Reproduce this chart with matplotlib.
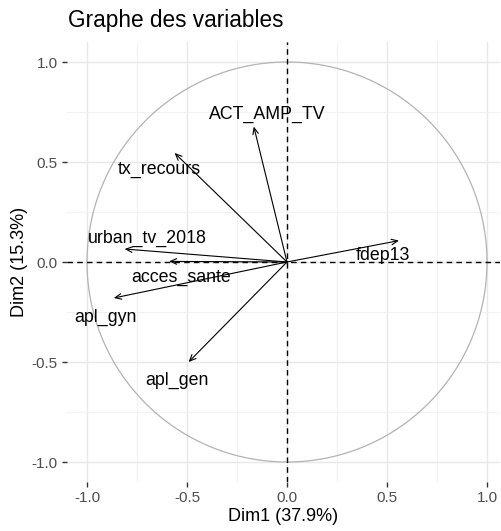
import numpy as np
import matplotlib
matplotlib.use("Agg")
import matplotlib.pyplot as plt
from matplotlib.ticker import MultipleLocator

plt.rcParams['font.family'] = ['Liberation Sans', 'DejaVu Sans']

variables = ["ACT_AMP_TV", "tx_recours", "urban_tv_2018", "acces_sante", "apl_gyn", "apl_gen", "fdep13"]
dim1 = [-0.166, -0.562, -0.812, -0.590, -0.866, -0.492, 0.560]
dim2 = [0.677, 0.545, 0.065, 0.003, -0.180, -0.500, 0.107]
label_x = [-0.10, -0.64, -0.70, -0.53, -0.91, -0.55, 0.48]
label_y = [0.74, 0.465, 0.12, -0.075, -0.275, -0.59, 0.035]

title = "Graphe des variables"
xlabel = "Dim1 (37.9%)"
ylabel = "Dim2 (15.3%)"
ticks = [-1.0, -0.5, 0.0, 0.5, 1.0]

fig = plt.figure(figsize=(5.02, 5.31), dpi=100)
ax = fig.add_axes([67/502, 49/531, 433/502, 440/531])
ax.set_xlim(-1.1, 1.065)
ax.set_ylim(-1.1, 1.1)

for s in ax.spines.values():
    s.set_visible(False)
ax.set_xticks(ticks)
ax.set_yticks(ticks)
ax.set_xticklabels([f"{t:.1f}" for t in ticks])
ax.set_yticklabels([f"{t:.1f}" for t in ticks])
ax.xaxis.set_minor_locator(MultipleLocator(0.25))
ax.yaxis.set_minor_locator(MultipleLocator(0.25))
ax.grid(True, which='major', color='#e8e8e8', lw=1.0, zorder=0)
ax.grid(True, which='minor', color='#f2f2f2', lw=0.8, zorder=0)
ax.tick_params(which='major', length=3.5, width=1.0, color='#333333',
               labelsize=11, labelcolor='#4d4d4d', pad=3)
ax.tick_params(which='minor', length=0)
ax.set_axisbelow(True)

theta = np.linspace(0, 2*np.pi, 400)
ax.plot(np.cos(theta), np.sin(theta), color='#b3b3b3', lw=0.9, zorder=1)
ax.axhline(0, color='black', ls=(0, (4, 3)), lw=1.0, zorder=2)
ax.axvline(0, color='black', ls=(0, (4, 3)), lw=1.0, zorder=2)

for name, x, y, lx, ly in zip(variables, dim1, dim2, label_x, label_y):
    ax.annotate("", xy=(x, y), xytext=(0, 0),
                arrowprops=dict(arrowstyle="->,head_length=0.45,head_width=0.2",
                                color='black', lw=0.8, shrinkA=0, shrinkB=0),
                zorder=3)
    ax.text(lx, ly, name, ha='center', va='center', fontsize=12.8,
            color='black', zorder=4)

ax.set_xlabel(xlabel, fontsize=13, labelpad=2)
ax.set_ylabel(ylabel, fontsize=13, labelpad=3)
fig.text(68/502, 1 - 20/531, title, fontsize=16.3, ha='left', va='center')

fig.savefig("out.png", dpi=100)
